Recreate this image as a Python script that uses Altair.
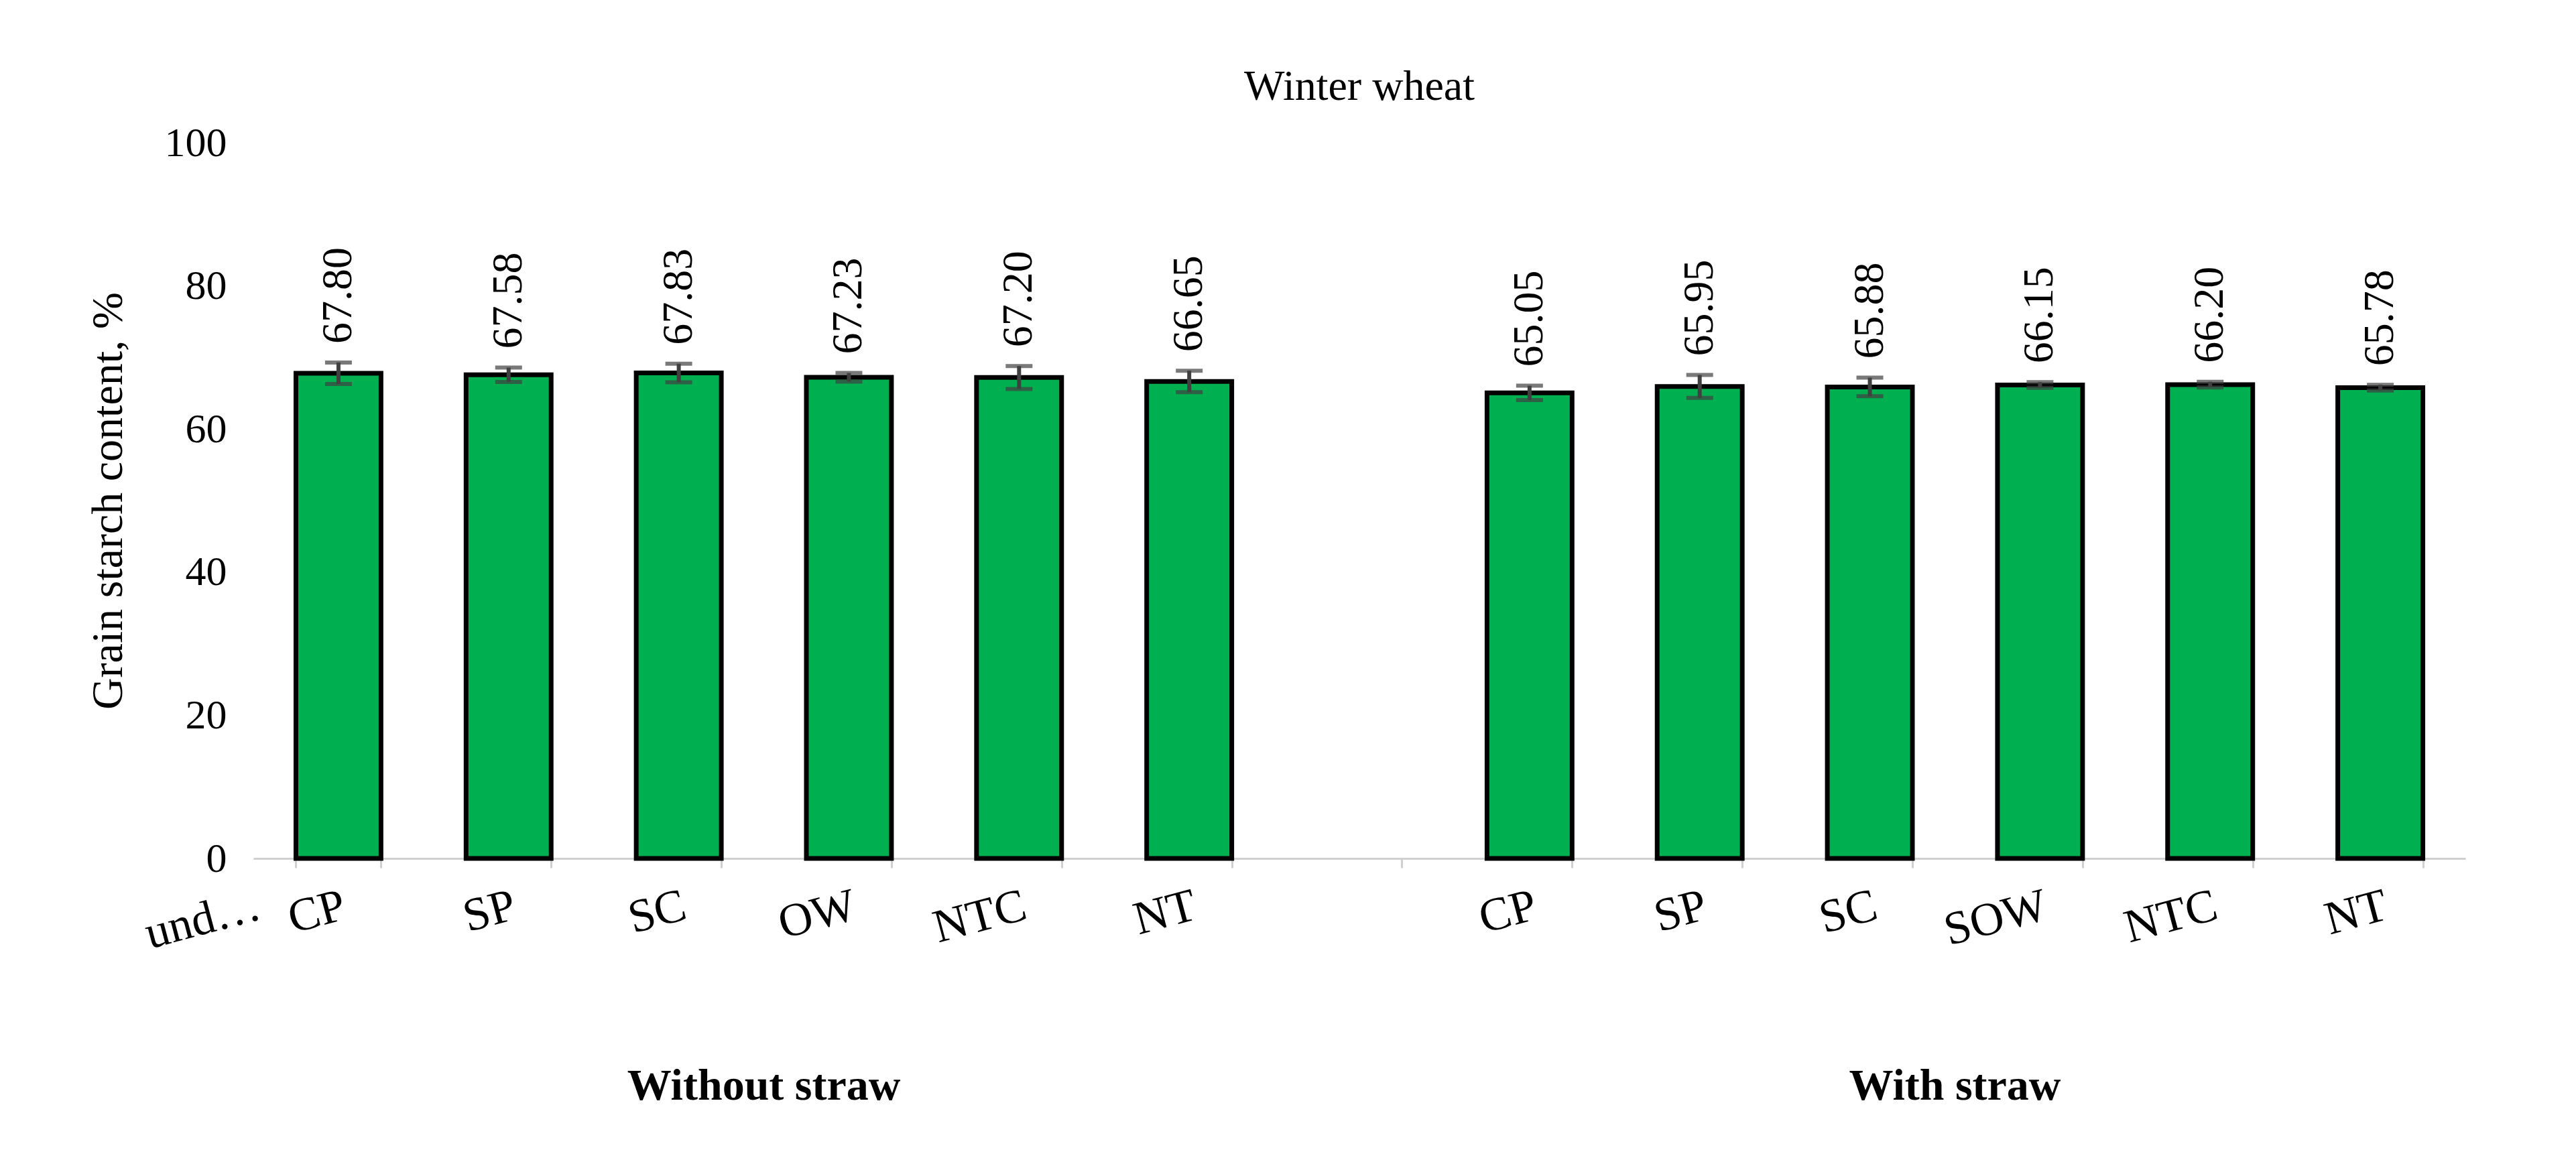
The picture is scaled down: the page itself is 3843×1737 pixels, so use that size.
import altair as alt
import pandas as pd

treat_a = ["CP", "SP", "SC", "OW", "NTC", "NT"]
treat_b = ["CP", "SP", "SC", "SOW", "NTC", "NT"]
starch_a = [67.80, 67.58, 67.83, 67.23, 67.20, 66.65]
starch_b = [65.05, 65.95, 65.88, 66.15, 66.20, 65.78]
err_a = [1.5, 1.0, 1.3, 0.6, 1.6, 1.5]
err_b = [1.0, 1.6, 1.3, 0.4, 0.4, 0.4]
groups = ["Without straw", "With straw"]

keys_a = [t + "|a" for t in treat_a]
keys_b = [t + "|b" for t in treat_b]
domain = keys_a + ["gap"] + keys_b

df = pd.DataFrame({
    "key": keys_a + keys_b,
    "value": starch_a + starch_b,
    "err": err_a + err_b,
})
df["lo"] = df["value"] - df["err"]
df["hi"] = df["value"] + df["err"]
df["label"] = df["value"].map(lambda v: f"{v:.2f}")

FONT = "Liberation Serif"
W, H = 3300, 1068

x = alt.X(
    "key:N",
    scale=alt.Scale(domain=domain, paddingInner=0.5, paddingOuter=0.25),
    axis=alt.Axis(
        title=None,
        labelExpr="datum.value == 'gap' ? '' : split(datum.value, '|')[0]",
        labelAngle=-15,
        labelFontSize=70,
        labelFont=FONT,
        labelColor="black",
        labelPadding=22,
        domainColor="#d0d0d0",
        domainWidth=3,
        tickColor="#d0d0d0",
        tickWidth=3,
        tickSize=14,
        tickBand="extent",
    ),
)
y = alt.Y(
    "value:Q",
    scale=alt.Scale(domain=[0, 100]),
    axis=alt.Axis(
        title="Grain starch content, %",
        titleFontSize=66,
        titleFont=FONT,
        titleFontWeight="normal",
        titleColor="black",
        titlePadding=50,
        labelFontSize=62,
        labelFont=FONT,
        labelColor="black",
        labelPadding=40,
        values=[0, 20, 40, 60, 80, 100],
        domain=False,
        ticks=False,
        grid=False,
    ),
)

bars = alt.Chart(df).mark_bar(
    color="#00b050", stroke="black", strokeWidth=7
).encode(x=x, y=y)

xk = alt.X("key:N")
whisk = alt.Chart(df).mark_rule(color="#404040", strokeWidth=6).encode(
    x=xk, y=alt.Y("lo:Q"), y2="hi:Q"
)
cap_lo = alt.Chart(df).mark_tick(color="#404040", thickness=6, size=40, orient="horizontal").encode(
    x=xk, y=alt.Y("lo:Q")
)
cap_hi = alt.Chart(df).mark_tick(color="#404040", thickness=6, size=40, orient="horizontal").encode(
    x=xk, y=alt.Y("hi:Q")
)

labels = alt.Chart(df).mark_text(
    angle=270, align="left", baseline="middle", dx=28, fontSize=64, font=FONT, color="black"
).encode(x=xk, y=alt.Y("hi:Q"), text="label:N")

gdf = pd.DataFrame({"key": ["SC|a", "SC|b"], "g": groups})
glabels = alt.Chart(gdf).mark_text(
    fontSize=66, font=FONT, fontWeight="bold", color="black", dx=127, baseline="middle"
).encode(x=xk, y=alt.value(H + 340), text="g:N")

chart = (
    alt.layer(bars, whisk, cap_lo, cap_hi, labels, glabels)
    .properties(
        width=W,
        height=H,
        padding={"left": 120, "top": 90, "right": 40, "bottom": 30},
        title=alt.TitleParams("Winter wheat", fontSize=64, font=FONT, fontWeight="normal", color="black", offset=20),
    )
    .configure_view(stroke=None)
)

chart.save("out.html", embed_options={"renderer": "svg", "actions": False})
